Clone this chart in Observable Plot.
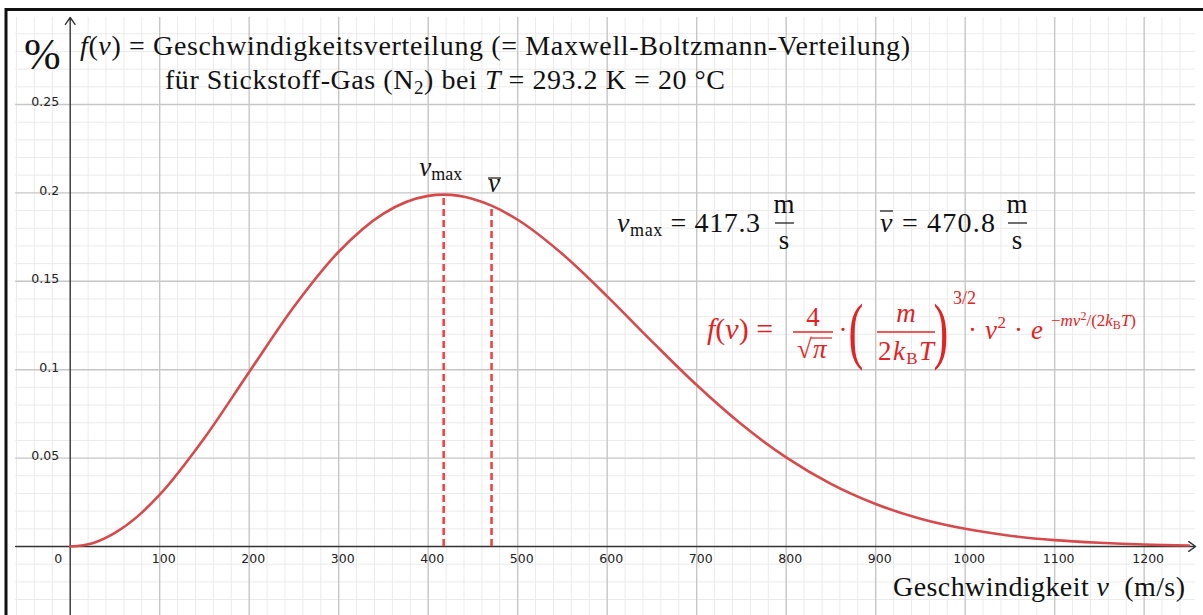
<!DOCTYPE html>
<html>
<head>
<meta charset="utf-8">
<script src="https://cdn.jsdelivr.net/npm/d3@7"></script>
<script src="https://cdn.jsdelivr.net/npm/@observablehq/plot@0.6"></script>
<style>
  html, body { margin: 0; padding: 0; background: #fff; overflow: hidden; }
  #chart { position: relative; width: 1203px; height: 615px; }
</style>
</head>
<body>
<div id="chart"></div>
<script>
// ---- data ----
const speeds  = [0, 25, 50, 75, 100, 150, 200, 250, 300, 350, 400, 417.3, 450, 470.8, 500, 550, 600, 650, 700, 750, 800, 850, 900, 950, 1000, 1050, 1100, 1150, 1200, 1250];
const density = [0, 0.0019, 0.0077, 0.0169, 0.0293, 0.0614, 0.0987, 0.1356, 0.1667, 0.1883, 0.1983, 0.1990, 0.1966, 0.1928, 0.1848, 0.1654, 0.1415, 0.1160, 0.0913, 0.0691, 0.0504, 0.0354, 0.0240, 0.0157, 0.0100, 0.0061, 0.0036, 0.0021, 0.0011, 0.0006];
const markerSpeeds  = [417.3, 470.8];
const markerDensity = [0.1990, 0.1928];
const xTickLabels = [100, 200, 300, 400, 500, 600, 700, 800, 900, 1000, 1100, 1200];
const yTickLabels = [0.05, 0.1, 0.15, 0.2, 0.25];

const curve = speeds.map((v, i) => ({v, f: density[i]}));
const markers = markerSpeeds.map((v, i) => ({v, f: markerDensity[i]}));

// grid extents (data units)
const gx1 = -61, gx2 = 1257.5, gy1 = -0.04, gy2 = 0.2992;
const minorX = d3.range(-60, 1241, 20).filter(d => d % 100 !== 0);
const minorY = d3.range(-3, 30).map(d => d / 100).filter(d => Math.round(d * 100) % 5 !== 0);
const majorX = xTickLabels;
const majorY = yTickLabels;

const chart = Plot.plot({
  width: 1203, height: 615,
  marginTop: 0, marginRight: 0, marginBottom: 0, marginLeft: 0,
  style: {background: "#fff"},
  x: {domain: [-77.88, 1266.3], axis: null},
  y: {domain: [-0.03903, 0.30882], axis: null},
  marks: [
    Plot.ruleX(minorX, {y1: gy1, y2: gy2, stroke: "#ebebeb", strokeWidth: 1}),
    Plot.ruleY(minorY, {x1: gx1, x2: gx2, stroke: "#ebebeb", strokeWidth: 1}),
    Plot.ruleX(majorX, {y1: gy1, y2: gy2, stroke: "#c6c6c6", strokeWidth: 1.4}),
    Plot.ruleY(majorY, {x1: gx1, x2: gx2, stroke: "#c6c6c6", strokeWidth: 1.4}),
    Plot.arrow([{a: gx1, b: gx2}], {x1: "a", x2: "b", y1: 0, y2: 0, stroke: "#333", strokeWidth: 1.4, headLength: 9, headAngle: 70}),
    Plot.arrow([{a: gy1, b: gy2}], {x1: 0, x2: 0, y1: "a", y2: "b", stroke: "#333", strokeWidth: 1.4, headLength: 9, headAngle: 70}),
    Plot.text(xTickLabels, {x: d => d, y: 0, dx: 4, dy: 12.5, text: d => String(d), fontFamily: "DejaVu Sans", fontSize: 12.5, fill: "#222"}),
    Plot.text(yTickLabels, {x: 0, y: d => d, dx: -11, dy: -2, textAnchor: "end", text: d => String(d), fontFamily: "DejaVu Sans", fontSize: 12.5, fill: "#222"}),
    Plot.text([0], {x: 0, y: 0, dx: -12, dy: 12.5, text: d => String(d), fontFamily: "DejaVu Sans", fontSize: 12.5, fill: "#222"}),
    Plot.ruleX(markers, {x: "v", y1: 0, y2: "f", stroke: "#ef4545", strokeWidth: 2.6, strokeDasharray: "7,4"}),
    Plot.line(curve, {x: "v", y: "f", curve: "monotone-x", stroke: "#d64a4c", strokeWidth: 2.6})
  ]
});
document.getElementById("chart").appendChild(chart);

// ---- annotations (math-like text) ----
const svg = d3.select(chart);
const X = chart.scale("x").apply, Y = chart.scale("y").apply;
const SERIF = "'Liberation Serif', 'Times New Roman', serif";
const g = svg.append("g").attr("font-family", SERIF);

function txt(x, y, parts, o = {}) {
  const t = g.append("text").attr("x", x).attr("y", y)
    .attr("font-size", o.size || 27).attr("fill", o.fill || "#111")
    .attr("text-anchor", o.anchor || "start");
  if (o.width) t.attr("textLength", o.width).attr("lengthAdjust", "spacing");
  let cur = 0;
  for (const p of parts) {
    const q = typeof p === "string" ? {t: p} : p;
    const off = q.dy || 0;
    const s = t.append("tspan").text(q.t).attr("dy", off - cur);
    cur = off;
    if (q.i) s.attr("font-style", "italic");
    if (q.s) s.attr("font-size", q.s);
  }
  return t;
}
function line(x1, y1, x2, y2, stroke, w) {
  g.append("line").attr("x1", x1).attr("y1", y1).attr("x2", x2).attr("y2", y2)
    .attr("stroke", stroke).attr("stroke-width", w);
}

// frame
line(6, 8, 6, 615, "#111", 3);
line(5, 9.5, 1203, 9.5, "#111", 3);

// "%"
txt(24, 69, ["%"], {size: 44});

// title lines
txt(80, 55, [{t: "f", i: 1}, "(", {t: "v", i: 1}, ") = Geschwindigkeitsverteilung (= Maxwell-Boltzmann-Verteilung)"], {size: 28, width: 830});
txt(165, 89, ["für Stickstoff-Gas (N", {t: "2", s: 19, dy: 5}, {t: ") bei "}, {t: "T", i: 1}, " = 293.2 K = 20 °C"], {size: 28, width: 560});

// labels at the markers
const vxM = X(markerSpeeds[0]), vxA = X(markerSpeeds[1]);
txt(vxM - 24, 176, [{t: "v", i: 1}, {t: "max", s: 18, dy: 4}], {});
txt(vxA - 3, 192, [{t: "v", i: 1}], {});
line(vxA - 3, 178, vxA + 10, 178, "#111", 1.2);

// v_max = 417.3 m/s
const K = "#111";
txt(617, 232, [{t: "v", i: 1}, {t: "max", s: 18, dy: 4}, {t: " = 417.3", dy: 0}], {size: 28, width: 143});
txt(784, 213, [{t: "m"}], {anchor: "middle"});
line(775, 223, 794, 223, K, 1.2);
txt(784, 249, [{t: "s"}], {anchor: "middle"});

// v̄ = 470.8 m/s
txt(880, 232, [{t: "v", i: 1}, " = 470.8"], {size: 28, width: 115});
line(880, 211, 893, 211, K, 1.2);
txt(1017, 213, [{t: "m"}], {anchor: "middle"});
line(1008, 223, 1027, 223, K, 1.2);
txt(1017, 249, [{t: "s"}], {anchor: "middle"});

// red formula
const R = "#e02424";
txt(707, 339, [{t: "f", i: 1}, "(", {t: "v", i: 1}, ") ="], {fill: R, size: 30});
txt(813, 326, ["4"], {fill: R, anchor: "middle"});
line(793, 332, 833, 332, R, 1.3);
txt(797, 358, ["√"], {fill: R});
line(811, 338, 832, 338, R, 1.2);
txt(813, 358, [{t: "π", i: 1}], {fill: R});
txt(843, 339, ["·"], {fill: R, anchor: "middle"});
g.append("text").attr("transform", "translate(856,355) scale(0.6,1)")
  .attr("font-size", 74).attr("fill", R).text("(");
txt(906, 322, [{t: "m", i: 1}], {fill: R, anchor: "middle"});
line(877, 332, 935, 332, R, 1.3);
txt(878, 360, ["2", {t: "k", i: 1}, {t: "B", s: 17, dy: 4}, {t: "T", i: 1, dy: 0}], {fill: R, width: 56});
g.append("text").attr("transform", "translate(941,355) scale(0.6,1)")
  .attr("font-size", 74).attr("fill", R).text(")");
txt(953, 304, ["3/2"], {fill: R, size: 18});
txt(968, 339, ["· ", {t: "v", i: 1}, {t: "2", s: 17, dy: -11}, {t: " · ", dy: 0}, {t: "e", i: 1}], {fill: R, width: 75});
txt(1051, 326, ["−", {t: "mv", i: 1}, {t: "2", s: 12, dy: -6}, {t: "/(2", dy: 0}, {t: "k", i: 1}, {t: "B", s: 12, dy: 3}, {t: "T", i: 1, dy: 0}, ")"], {fill: R, size: 17});

// x-axis title
txt(893, 596, ["Geschwindigkeit ", {t: "v", i: 1}, "  (m/s)"], {size: 28, width: 292});
</script>
</body>
</html>
